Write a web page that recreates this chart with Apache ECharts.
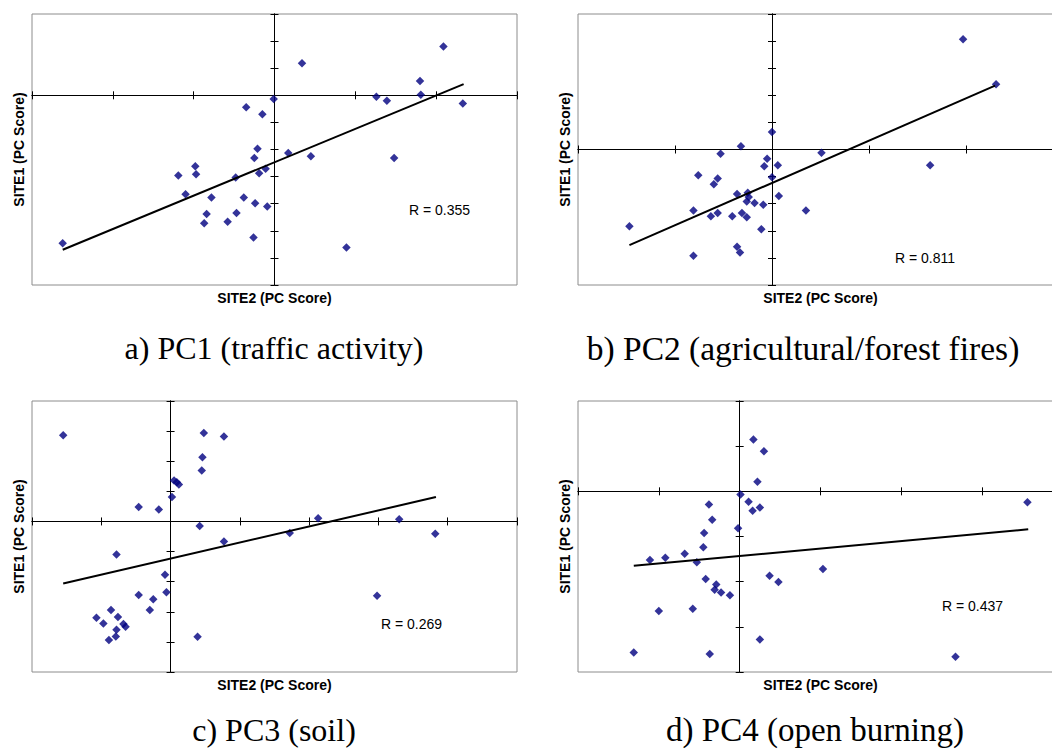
<!DOCTYPE html>
<html>
<head>
<meta charset="utf-8">
<script src="https://cdn.jsdelivr.net/npm/echarts@6.0.0/dist/echarts.min.js"></script>
<style>
html,body{margin:0;padding:0;background:#fff;overflow:hidden;width:1052px;height:751px;}
#chart{width:1066px;height:751px;}
</style>
</head>
<body>
<div id="chart"></div>
<script>
// ---------- DATA ----------
// a) PC1 (traffic activity)
const pc1Site2 = [-2.62,-1.19,-0.98,-0.97,-1.10,-0.78,-0.84,-0.87,-0.58,-0.47,-0.38,-0.48,-0.24,-0.26,-0.09,-0.19,-0.11,-0.25,-0.21,-0.35,-0.15,-0.01,0.17,0.34,0.45,0.89,1.26,1.39,1.48,1.80,1.81,2.09,2.33];
const pc1Site1 = [-5.46,-2.96,-2.62,-2.91,-3.65,-3.77,-4.38,-4.72,-4.67,-4.34,-3.77,-3.03,-3.98,-5.25,-4.10,-2.88,-2.71,-2.31,-1.97,-0.44,-0.70,-0.14,-2.13,1.18,-2.25,-5.62,-0.05,-0.20,-2.31,0.53,0.02,1.80,-0.30];
const pc1TrendX = [-2.62, 2.34];
const pc1TrendY = [-5.70, 0.41];
const pc1R = "R = 0.355";

// b) PC2 (agricultural/forest fires)
const pc2Site2 = [-1.47,-0.81,-0.81,-0.76,-0.60,-0.56,-0.53,-0.63,-0.56,-0.41,-0.36,-0.32,-0.36,-0.33,-0.31,-0.26,-0.26,-0.25,-0.24,-0.18,-0.09,-0.11,-0.08,-0.05,0.00,0.00,0.06,0.07,0.35,0.51,1.63,1.97,2.31];
const pc2Site1 = [-2.83,-2.25,-3.92,-0.95,-1.28,-1.07,-0.16,-2.46,-2.34,-2.46,-1.64,0.12,-3.59,-3.80,-2.34,-2.50,-1.92,-1.60,-1.75,-1.97,-2.04,-2.94,-0.62,-0.34,0.65,-1.02,-0.58,-1.72,-2.25,-0.12,-0.58,4.07,2.41];
const pc2TrendX = [-1.47, 2.30];
const pc2TrendY = [-3.53, 2.36];
const pc2R = "R = 0.811";

// c) PC3 (soil)
const pc3Site2 = [-1.55,-1.07,-0.97,-0.89,-0.86,-0.78,-0.76,-0.78,-0.79,-0.68,-0.65,-0.46,-0.46,-0.30,-0.25,-0.17,-0.08,-0.06,0.02,0.05,0.09,0.12,0.39,0.42,0.45,0.46,0.48,0.77,0.77,1.72,2.13,2.98,3.30,3.82];
const pc3Site1 = [2.86,-3.20,-3.39,-3.94,-2.94,-1.10,-3.17,-3.60,-3.82,-3.41,-3.50,0.48,-2.44,-2.94,-2.58,0.40,-1.77,-2.35,0.81,1.36,1.30,1.23,-3.83,-0.15,1.69,2.13,2.94,2.82,-0.67,-0.38,0.11,-2.47,0.07,-0.41];
const pc3TrendX = [-1.55, 3.83];
const pc3TrendY = [-2.06, 0.81];
const pc3R = "R = 0.269";

// d) PC4 (open burning)
const pc4Site2 = [-1.31,-1.11,-1.00,-0.92,-0.68,-0.58,-0.53,-0.45,-0.44,-0.42,-0.38,-0.37,-0.34,-0.29,-0.31,-0.23,-0.12,-0.02,0.01,0.11,0.17,0.16,0.22,0.25,0.30,0.25,0.37,0.48,1.03,2.67,3.56];
const pc4Site1 = [-3.57,-1.52,-2.65,-1.47,-1.38,-2.60,-1.57,-1.24,-0.92,-1.94,-0.29,-3.60,-0.63,-2.06,-2.18,-2.24,-2.30,-0.82,-0.07,-0.23,1.15,-0.43,0.21,-0.36,0.89,-3.28,-1.87,-2.01,-1.72,-3.66,-0.24];
const pc4TrendX = [-1.31, 3.57];
const pc4TrendY = [-1.65, -0.84];
const pc4R = "R = 0.437";

// axis ranges (no tick labels are shown in the reference)
const xRanges = [[-3, 3], [-2, 3], [-2, 5], [-2, 4]];
const yRanges = [[-7, 3], [-5, 5], [-5, 4], [-4, 2]];

const panelTitles = ["a) PC1 (traffic activity)", "b) PC2 (agricultural/forest fires)", "c) PC3 (soil)", "d) PC4 (open burning)"];
const xTitle = "SITE2 (PC Score)";
const yTitle = "SITE1 (PC Score)";

// ---------- LAYOUT ----------
const panels = [
  {x: pc1Site2, y: pc1Site1, tx: pc1TrendX, ty: pc1TrendY, r: pc1R},
  {x: pc2Site2, y: pc2Site1, tx: pc2TrendX, ty: pc2TrendY, r: pc2R},
  {x: pc3Site2, y: pc3Site1, tx: pc3TrendX, ty: pc3TrendY, r: pc3R},
  {x: pc4Site2, y: pc4Site1, tx: pc4TrendX, ty: pc4TrendY, r: pc4R}
];
const boxes = [
  {left: 32, top: 14, width: 485, height: 271},
  {left: 578, top: 14, width: 485, height: 271},
  {left: 32, top: 401, width: 485, height: 271},
  {left: 578, top: 401, width: 485, height: 271}
];
const rPos = [[409, 210], [895, 258], [381, 624], [942, 606]];
const titlePos = [[274, 348], [803, 348], [274, 730], [815, 730]];
const titleSize = [32, 33.5, 32, 33];

const sans = "'Liberation Sans', Arial, sans-serif";
const serif = "'Liberation Serif', 'Times New Roman', serif";

const grid = [], xAxis = [], yAxis = [], series = [], graphic = [];

function axisBase(i, range, pos, inside) {
  return {
    gridIndex: i, type: 'value', min: range[0], max: range[1], interval: 1,
    position: pos,
    axisLine: {show: true, onZero: true, lineStyle: {color: '#000', width: 1}},
    axisTick: {show: true, inside: inside, length: 4, lineStyle: {color: '#000', width: 1}},
    axisLabel: {show: false},
    splitLine: {show: false}
  };
}

panels.forEach((p, i) => {
  const b = boxes[i];
  grid.push({left: b.left, top: b.top, width: b.width, height: b.height,
             show: true, borderColor: '#8c8c8c', borderWidth: 1, backgroundColor: 'transparent'});
  xAxis.push(axisBase(i, xRanges[i], 'bottom', true));
  xAxis.push(axisBase(i, xRanges[i], 'bottom', false));
  yAxis.push(axisBase(i, yRanges[i], 'left', true));
  yAxis.push(axisBase(i, yRanges[i], 'left', false));

  series.push({
    type: 'scatter', xAxisIndex: 2 * i, yAxisIndex: 2 * i,
    symbol: 'diamond', symbolSize: 8.5,
    itemStyle: {color: '#000080'},
    data: p.x.map((v, k) => [v, p.y[k]]),
    z: 3
  });
  series.push({
    type: 'line', xAxisIndex: 2 * i, yAxisIndex: 2 * i,
    symbol: 'none', silent: true,
    lineStyle: {color: '#000', width: 2},
    data: p.tx.map((v, k) => [v, p.ty[k]]),
    z: 4
  });

  // axis titles
  graphic.push({type: 'text', x: b.left + b.width / 2, y: b.top + b.height + 12.5,
    style: {text: xTitle, font: 'bold 14px ' + sans, fill: '#000', align: 'center', verticalAlign: 'middle'}});
  graphic.push({type: 'text', x: b.left - 13, y: b.top + b.height / 2, rotation: Math.PI / 2,
    style: {text: yTitle, font: 'bold 14px ' + sans, fill: '#000', align: 'center', verticalAlign: 'middle'}});
  // R label
  graphic.push({type: 'text', x: rPos[i][0], y: rPos[i][1],
    style: {text: p.r, font: '14px ' + sans, fill: '#000', align: 'left', verticalAlign: 'middle'}});
  // panel caption
  graphic.push({type: 'text', x: titlePos[i][0], y: titlePos[i][1],
    style: {text: panelTitles[i], font: titleSize[i] + 'px ' + serif, fill: '#000', align: 'center', verticalAlign: 'middle'}});
});

const chart = echarts.init(document.getElementById('chart'), null, {renderer: 'svg'});
chart.setOption({animation: false, backgroundColor: '#fff', grid, xAxis, yAxis, series, graphic});
</script>
</body>
</html>
